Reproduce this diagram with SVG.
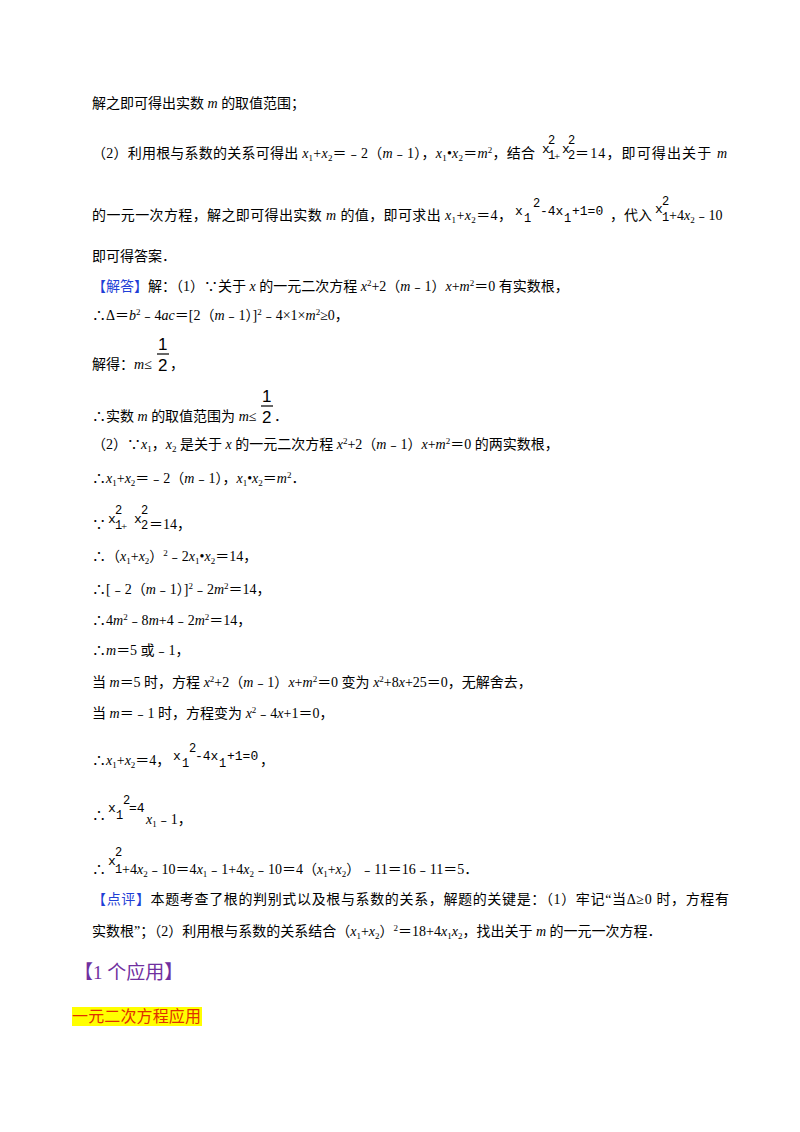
<svg xmlns="http://www.w3.org/2000/svg" width="800" height="1132" viewBox="0 0 800 1132">
<style>
text{font-family:"Liberation Serif","Noto Sans CJK SC",serif;font-size:14px;fill:#000}
.i{font-style:italic}
.s{font-size:9px}
.pl{font-size:11px}
.m{font-family:"Liberation Mono","DejaVu Sans Mono",monospace;font-size:13px}
.ms{font-family:"Liberation Mono","DejaVu Sans Mono",monospace;font-size:12px}
.f{font-family:"Liberation Sans",sans-serif;font-size:17px}
.b{fill:#1f3fd6}
.p{fill:#7030a0;font-size:19px}
</style>
<rect width="800" height="1132" fill="#fff"/>
<text x="92" y="108">解之即可得出实数 <tspan class="i">m</tspan> 的取值范围；</text>
<text x="92" y="158" textLength="443">（2）利用根与系数的关系可得出 <tspan class="i">x</tspan><tspan class="s" dy="3">1</tspan><tspan dy="-3">+</tspan><tspan class="i">x</tspan><tspan class="s" dy="3">2</tspan><tspan dy="-3">＝﹣2（</tspan><tspan class="i">m</tspan>﹣1），<tspan class="i">x</tspan><tspan class="s" dy="3">1</tspan><tspan dy="-3">•</tspan><tspan class="i">x</tspan><tspan class="s" dy="3">2</tspan><tspan dy="-3">＝</tspan><tspan class="i">m</tspan><tspan class="s" dy="-5">2</tspan><tspan dy="5">，结合</tspan></text>
<g><text class="m" x="542" y="153">x</text><text class="ms" x="548" y="144">2</text><text class="ms" x="548" y="159">1</text><text x="554" y="160" class="pl">+</text><text class="m" x="562" y="153">x</text><text class="ms" x="568" y="144">2</text><text class="ms" x="568" y="159">2</text></g>
<text x="575" y="158" textLength="152">＝14，即可得出关于 <tspan class="i">m</tspan></text>
<text x="92" y="220" textLength="420">的一元一次方程，解之即可得出实数 <tspan class="i">m</tspan> 的值，即可求出 <tspan class="i">x</tspan><tspan class="s" dy="3">1</tspan><tspan dy="-3">+</tspan><tspan class="i">x</tspan><tspan class="s" dy="3">2</tspan><tspan dy="-3">＝4，</tspan></text>
<g><text class="m" x="515" y="215">x</text><text class="ms" x="524" y="222">1</text><text class="ms" x="533" y="207">2</text><text class="m" x="540" y="215">-4x</text><text class="ms" x="564" y="222">1</text><text class="m" x="572" y="215">+1=0</text></g>
<text x="610" y="220">，代入</text>
<g><text class="m" x="655" y="213">x</text><text class="ms" x="662" y="205">2</text><text class="ms" x="662" y="221">1</text></g>
<text x="669" y="220">+4<tspan class="i">x</tspan><tspan class="s" dy="3">2</tspan><tspan dy="-3">﹣10</tspan></text>
<text x="92" y="261">即可得答案．</text>

<text x="92" y="291"><tspan class="b">【解答】</tspan>解：（1）∵关于 <tspan class="i">x</tspan> 的一元二次方程 <tspan class="i">x</tspan><tspan class="s" dy="-5">2</tspan><tspan dy="5">+2（</tspan><tspan class="i">m</tspan>﹣1）<tspan class="i">x</tspan>+<tspan class="i">m</tspan><tspan class="s" dy="-5">2</tspan><tspan dy="5">＝0 有实数根，</tspan></text>
<text x="92" y="320">∴Δ＝<tspan class="i">b</tspan><tspan class="s" dy="-5">2</tspan><tspan dy="5">﹣4</tspan><tspan class="i">ac</tspan>＝[2（<tspan class="i">m</tspan>﹣1）]<tspan class="s" dy="-5">2</tspan><tspan dy="5">﹣4×1×</tspan><tspan class="i">m</tspan><tspan class="s" dy="-5">2</tspan><tspan dy="5">≥0，</tspan></text>
<text x="92" y="369">解得：<tspan class="i">m</tspan>≤</text>
<g><text class="f" x="158" y="350">1</text><line x1="157" y1="354" x2="169" y2="354" stroke="#000" stroke-width="1.2"/><text class="f" x="158" y="371">2</text></g>
<text x="170" y="369">，</text>
<text x="92" y="421">∴实数 <tspan class="i">m</tspan> 的取值范围为 <tspan class="i">m</tspan>≤</text>
<g><text class="f" x="262" y="402">1</text><line x1="261" y1="406" x2="273" y2="406" stroke="#000" stroke-width="1.2"/><text class="f" x="262" y="423">2</text></g>
<text x="274" y="421">．</text>
<text x="92" y="449">（2）∵<tspan class="i">x</tspan><tspan class="s" dy="3">1</tspan><tspan dy="-3">，</tspan><tspan class="i">x</tspan><tspan class="s" dy="3">2</tspan><tspan dy="-3"> 是关于 </tspan><tspan class="i">x</tspan> 的一元二次方程 <tspan class="i">x</tspan><tspan class="s" dy="-5">2</tspan><tspan dy="5">+2（</tspan><tspan class="i">m</tspan>﹣1）<tspan class="i">x</tspan>+<tspan class="i">m</tspan><tspan class="s" dy="-5">2</tspan><tspan dy="5">＝0 的两实数根，</tspan></text>
<text x="92" y="483">∴<tspan class="i">x</tspan><tspan class="s" dy="3">1</tspan><tspan dy="-3">+</tspan><tspan class="i">x</tspan><tspan class="s" dy="3">2</tspan><tspan dy="-3">＝﹣2（</tspan><tspan class="i">m</tspan>﹣1），<tspan class="i">x</tspan><tspan class="s" dy="3">1</tspan><tspan dy="-3">•</tspan><tspan class="i">x</tspan><tspan class="s" dy="3">2</tspan><tspan dy="-3">＝</tspan><tspan class="i">m</tspan><tspan class="s" dy="-5">2</tspan><tspan dy="5">．</tspan></text>

<text x="92" y="529">∵</text>
<g><text class="m" x="108" y="523">x</text><text class="ms" x="115" y="514">2</text><text class="ms" x="115" y="529">1</text><text x="121" y="530" class="pl">+</text><text class="m" x="134" y="523">x</text><text class="ms" x="141" y="514">2</text><text class="ms" x="141" y="529">2</text></g>
<text x="149" y="529">＝14，</text>
<text x="92" y="561">∴（<tspan class="i">x</tspan><tspan class="s" dy="3">1</tspan><tspan dy="-3">+</tspan><tspan class="i">x</tspan><tspan class="s" dy="3">2</tspan><tspan dy="-3">）</tspan><tspan class="s" dy="-5">2</tspan><tspan dy="5">﹣2</tspan><tspan class="i">x</tspan><tspan class="s" dy="3">1</tspan><tspan dy="-3">•</tspan><tspan class="i">x</tspan><tspan class="s" dy="3">2</tspan><tspan dy="-3">＝14，</tspan></text>
<text x="92" y="594">∴[﹣2（<tspan class="i">m</tspan>﹣1）]<tspan class="s" dy="-5">2</tspan><tspan dy="5">﹣2</tspan><tspan class="i">m</tspan><tspan class="s" dy="-5">2</tspan><tspan dy="5">＝14，</tspan></text>
<text x="92" y="625">∴4<tspan class="i">m</tspan><tspan class="s" dy="-5">2</tspan><tspan dy="5">﹣8</tspan><tspan class="i">m</tspan>+4﹣2<tspan class="i">m</tspan><tspan class="s" dy="-5">2</tspan><tspan dy="5">＝14，</tspan></text>
<text x="92" y="655">∴<tspan class="i">m</tspan>＝5 或﹣1，</text>
<text x="92" y="687">当 <tspan class="i">m</tspan>＝5 时，方程 <tspan class="i">x</tspan><tspan class="s" dy="-5">2</tspan><tspan dy="5">+2（</tspan><tspan class="i">m</tspan>﹣1）<tspan class="i">x</tspan>+<tspan class="i">m</tspan><tspan class="s" dy="-5">2</tspan><tspan dy="5">＝0 变为 </tspan><tspan class="i">x</tspan><tspan class="s" dy="-5">2</tspan><tspan dy="5">+8</tspan><tspan class="i">x</tspan>+25＝0，无解舍去，</text>
<text x="92" y="718">当 <tspan class="i">m</tspan>＝﹣1 时，方程变为 <tspan class="i">x</tspan><tspan class="s" dy="-5">2</tspan><tspan dy="5">﹣4</tspan><tspan class="i">x</tspan>+1＝0，</text>
<text x="92" y="765">∴<tspan class="i">x</tspan><tspan class="s" dy="3">1</tspan><tspan dy="-3">+</tspan><tspan class="i">x</tspan><tspan class="s" dy="3">2</tspan><tspan dy="-3">＝4，</tspan></text>
<g><text class="m" x="173" y="760">x</text><text class="ms" x="182" y="767">1</text><text class="ms" x="189" y="752">2</text><text class="m" x="195" y="760">-4x</text><text class="ms" x="219" y="767">1</text><text class="m" x="227" y="760">+1=0</text><text x="260" y="765">，</text></g>
<text x="92" y="820">∴</text>
<g><text class="m" x="108" y="812">x</text><text class="ms" x="116" y="819">1</text><text class="ms" x="123" y="804">2</text><text class="m" x="129" y="812">=4</text></g>
<text x="146" y="824"><tspan class="i">x</tspan><tspan class="s" dy="3">1</tspan><tspan dy="-3">﹣1，</tspan></text>
<text x="92" y="874">∴</text>
<g><text class="m" x="108" y="865">x</text><text class="ms" x="115" y="856">2</text><text class="ms" x="115" y="873">1</text></g>
<text x="122" y="874">+4<tspan class="i">x</tspan><tspan class="s" dy="3">2</tspan><tspan dy="-3">﹣10＝4</tspan><tspan class="i">x</tspan><tspan class="s" dy="3">1</tspan><tspan dy="-3">﹣1+4</tspan><tspan class="i">x</tspan><tspan class="s" dy="3">2</tspan><tspan dy="-3">﹣10＝4（</tspan><tspan class="i">x</tspan><tspan class="s" dy="3">1</tspan><tspan dy="-3">+</tspan><tspan class="i">x</tspan><tspan class="s" dy="3">2</tspan><tspan dy="-3">）﹣11＝16﹣11＝5．</tspan></text>

<text x="92" y="904" textLength="637"><tspan class="b">【点评】</tspan>本题考查了根的判别式以及根与系数的关系，解题的关键是：（1）牢记“当Δ≥0 时，方程有</text>
<text x="92" y="936">实数根”；（2）利用根与系数的关系结合（<tspan class="i">x</tspan><tspan class="s" dy="3">1</tspan><tspan dy="-3">+</tspan><tspan class="i">x</tspan><tspan class="s" dy="3">2</tspan><tspan dy="-3">）</tspan><tspan class="s" dy="-5">2</tspan><tspan dy="5">＝18+4</tspan><tspan class="i">x</tspan><tspan class="s" dy="3">1</tspan><tspan class="i" dy="-3">x</tspan><tspan class="s" dy="3">2</tspan><tspan dy="-3">，找出关于 </tspan><tspan class="i">m</tspan> 的一元一次方程．</text>
<text class="p" x="74" y="979">【1 个应用】</text>
<rect x="72" y="1007" width="130" height="19" fill="#ffff00"/>
<text x="72" y="1022" textLength="129" style="fill:#e03000;font-size:16px">一元二次方程应用</text>
</svg>
